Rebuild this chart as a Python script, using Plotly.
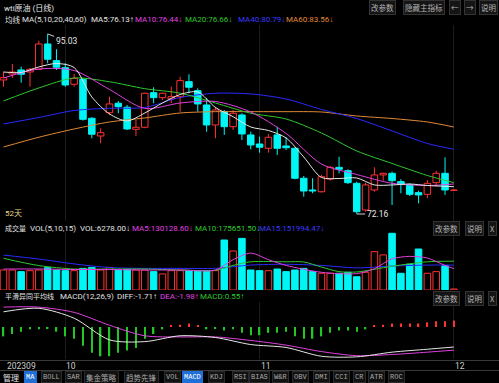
import plotly.graph_objects as go

W, H = 499, 383

# ---------------- data ----------------
opens = [89.19, 89.95, 90.46, 90.20, 90.55, 93.76, 91.64, 90.75, 88.64, 89.27, 84.32, 82.07, 85.03,
         86.23, 85.72, 82.92, 83.18, 87.57, 86.94, 86.77, 87.06, 88.97, 87.83, 86.01, 83.47, 85.16,
         83.25, 84.74, 82.20, 81.05, 80.51, 82.20, 80.80, 80.51, 76.70, 75.21, 74.99, 76.61, 78.09,
         77.66, 76.06, 72.67, 75.21, 77.12, 77.33, 76.27, 75.85, 74.87, 74.66, 76.14, 77.33, 75.16]
highs = [90.24, 91.22, 90.88, 90.71, 94.18, 95.03, 93.09, 91.31, 89.95, 89.40, 84.45, 83.05, 87.06,
         86.52, 86.01, 84.10, 87.57, 88.26, 87.57, 88.33, 89.61, 89.91, 88.13, 86.90, 85.79, 85.37,
         85.37, 84.96, 82.62, 81.98, 82.33, 83.25, 81.91, 80.64, 76.99, 76.70, 77.12, 78.26, 79.44,
         77.84, 76.27, 76.14, 78.09, 77.41, 77.54, 76.57, 76.06, 75.12, 76.48, 77.66, 79.36, 75.30]
lows = [88.33, 89.44, 88.84, 88.33, 90.46, 91.31, 90.46, 88.33, 88.33, 84.02, 81.78, 81.14, 84.74,
        84.96, 82.83, 82.07, 83.05, 86.23, 86.65, 86.26, 85.16, 87.50, 85.16, 82.62, 81.78, 82.20,
        82.83, 81.56, 80.38, 79.95, 79.95, 79.66, 80.29, 76.57, 74.36, 74.79, 74.87, 76.39, 77.33,
        75.97, 72.16, 72.45, 74.99, 76.39, 73.30, 74.79, 74.45, 73.52, 74.16, 75.63, 74.58, 75.08]
closes = [89.48, 90.20, 89.91, 90.55, 93.76, 91.82, 90.80, 88.55, 89.40, 84.19, 82.29, 82.49, 86.14,
          85.79, 82.96, 83.18, 87.50, 86.94, 87.50, 87.06, 89.10, 88.26, 86.14, 83.47, 85.37, 83.25,
          84.96, 82.33, 80.93, 80.64, 81.91, 80.51, 80.58, 76.70, 75.08, 75.08, 76.90, 78.09, 77.84,
          76.14, 72.45, 75.85, 77.12, 77.33, 76.39, 75.93, 74.66, 74.58, 76.06, 77.33, 75.21, 75.21]

volumes = [122000, 122000, 112000, 118000, 122000, 136000, 122000, 118000, 118000, 132000, 138000,
           122000, 138000, 122000, 126000, 122000, 122000, 112000, 98000, 118000, 118000, 118000,
           118000, 118000, 118000, 305000, 238000, 315000, 122000, 118000, 118000, 128000, 112000,
           122000, 132000, 112000, 102000, 102000, 102000, 108000, 81000, 108000, 234000, 214000,
           346000, 102000, 157000, 250000, 102000, 112000, 148000, 6278]

# price moving averages (read at selected candles)
ma5_idx = [0, 2, 4, 6, 8, 10, 12, 14, 16, 18, 20, 22, 24, 26, 28, 30, 32, 34, 36, 38, 40, 42, 44, 46, 48, 50, 51]
ma5_val = [90.20, 90.14, 90.84, 91.28, 90.77, 87.03, 84.87, 83.98, 84.99, 86.26, 87.34, 87.66, 85.69,
           84.52, 83.21, 82.77, 81.82, 79.40, 76.80, 76.67, 76.74, 75.85, 75.85, 75.97, 75.78, 75.68, 75.63]
ma_idx = [0, 4, 8, 12, 16, 20, 24, 28, 32, 36, 40, 44, 48, 51]
ma10_val = [89.44, 90.58, 90.39, 87.98, 85.57, 86.26, 86.45, 85.12, 82.39, 78.51, 77.18, 76.06, 75.78, 75.97]
ma20_val = [86.52, 88.17, 89.44, 88.96, 88.08, 87.51, 86.26, 84.96, 84.23, 82.45, 80.17, 78.58, 77.05, 76.14]
ma40_val = [83.60, 84.42, 85.31, 85.59, 85.69, 86.96, 87.50, 87.41, 86.77, 85.44, 84.29, 82.71, 81.12, 80.38]
ma60_val = [80.67, 81.91, 82.96, 83.85, 84.36, 84.99, 85.16, 85.16, 85.16, 85.12, 84.61, 84.29, 83.85, 83.21]

# volume moving averages
vma5_idx = [0, 4, 8, 12, 16, 20, 24, 26, 28, 30, 32, 36, 40, 42, 44, 46, 48, 50, 51]
vma5_val = [128000, 128000, 125000, 125000, 122000, 122000, 122000, 185000, 225000, 185000, 150000,
            108000, 100000, 130000, 190000, 205000, 195000, 150000, 130129]
vma10_idx = [0, 4, 8, 12, 16, 20, 24, 26, 28, 32, 34, 36, 38, 40, 44, 48, 51]
vma10_val = [193000, 149000, 128000, 128000, 128000, 122000, 120000, 150000, 172000, 172000, 171000,
             140000, 112000, 110000, 145000, 172000, 175652]
vma15_idx = [0, 4, 8, 12, 16, 20, 24, 28, 32, 36, 40, 44, 48, 51]
vma15_val = [213000, 189000, 159000, 137000, 132000, 132000, 132000, 152000, 157000, 150000, 135000,
             146000, 152000, 151994]

# MACD
macd_idx = [0, 4, 8, 12, 16, 20, 24, 28, 32, 36, 40, 44, 48, 51]
diff_val = [1.30, 1.60, 0.75, -1.10, -1.25, -0.75, -0.90, -1.50, -1.75, -2.50, -2.55, -2.15, -1.90, -1.71]
dea_val = [1.70, 1.70, 1.25, 0.15, -0.75, -0.85, -0.85, -1.15, -1.55, -2.10, -2.45, -2.35, -2.15, -1.98]
hist_val = [-0.8, -0.6, -0.4, -0.2, -0.2, -0.1, -0.4, -0.8, -1.0, -1.6, -2.2, -2.5, -2.5, -2.2, -2.0,
            -1.8, -1.0, -0.6, -0.2, 0.1, 0.2, 0.3, 0.1, -0.2, -0.1, -0.3, -0.2, -0.5, -0.7, -0.7,
            -0.5, -0.5, -0.4, -0.8, -1.0, -1.0, -0.8, -0.5, -0.3, -0.3, -0.4, -0.2, 0.1, 0.2, 0.3,
            0.3, 0.3, 0.3, 0.4, 0.5, 0.5, 0.55]

month_idx = [0, 7, 29, 51]
month_txt = ["202309", "10", "11", "12"]

# ---------------- styling ----------------
RED = '#ff3232'
CYAN = '#00f5f5'
C_MA5 = '#e6e6e6'
C_MA10 = '#e040e0'
C_MA20 = '#2fc82f'
C_MA40 = '#2a2aff'
C_MA60 = '#e08a38'
FONT = "Roboto, 'Liberation Sans', 'Noto Sans CJK SC', sans-serif"
CJK = "'Noto Sans CJK SC', sans-serif"

n = len(closes)
idx = list(range(n))
up = [c >= o for o, c in zip(opens, closes)]

fig = go.Figure()


def wicks(flag):
    xs, ys = [], []
    for i in idx:
        if up[i] != flag:
            continue
        top = max(opens[i], closes[i])
        bot = min(opens[i], closes[i])
        xs += [i, i, None, i, i, None]
        ys += [highs[i], top, None, bot, lows[i], None]
    return xs, ys


def bodies(flag):
    xs, hs, bs = [], [], []
    for i in idx:
        if up[i] != flag:
            continue
        xs.append(i)
        bs.append(min(opens[i], closes[i]))
        hs.append(max(abs(closes[i] - opens[i]), 0.02))
    return xs, hs, bs


BW = 0.74
x, h, b = bodies(True)
fig.add_trace(go.Bar(x=x, y=h, base=b, width=BW, xaxis='x', yaxis='y',
                     marker=dict(color='#000000', line=dict(color=RED, width=1))))
x, h, b = bodies(False)
fig.add_trace(go.Bar(x=x, y=h, base=b, width=BW, xaxis='x', yaxis='y',
                     marker=dict(color=CYAN, line=dict(color=CYAN, width=1))))
x, y = wicks(True)
fig.add_trace(go.Scatter(x=x, y=y, mode='lines', line=dict(color=RED, width=1), xaxis='x', yaxis='y'))
x, y = wicks(False)
fig.add_trace(go.Scatter(x=x, y=y, mode='lines', line=dict(color=CYAN, width=1), xaxis='x', yaxis='y'))

for xi, yv, col in [(ma_idx, ma60_val, C_MA60), (ma_idx, ma40_val, C_MA40), (ma_idx, ma20_val, C_MA20),
                    (ma_idx, ma10_val, C_MA10), (ma5_idx, ma5_val, C_MA5)]:
    fig.add_trace(go.Scatter(x=xi, y=yv, mode='lines', xaxis='x', yaxis='y',
                             line=dict(color=col, width=1, shape='spline', smoothing=0.8)))

vu = [i for i in idx if up[i]]
vd = [i for i in idx if not up[i]]
fig.add_trace(go.Bar(x=vu, y=[volumes[i] for i in vu], width=BW, xaxis='x2', yaxis='y2',
                     marker=dict(color='#000000', line=dict(color=RED, width=1))))
fig.add_trace(go.Bar(x=vd, y=[volumes[i] for i in vd], width=BW, xaxis='x2', yaxis='y2',
                     marker=dict(color=CYAN, line=dict(color=CYAN, width=1))))
for xi, yv, col in [(vma15_idx, vma15_val, C_MA40), (vma10_idx, vma10_val, C_MA20),
                    (vma5_idx, vma5_val, C_MA10)]:
    fig.add_trace(go.Scatter(x=xi, y=yv, mode='lines', xaxis='x2', yaxis='y2',
                             line=dict(color=col, width=1, shape='spline', smoothing=0.8)))

hp = [i for i in idx if hist_val[i] >= 0]
hn = [i for i in idx if hist_val[i] < 0]
fig.add_trace(go.Bar(x=hp, y=[hist_val[i] for i in hp], width=0.16, xaxis='x3', yaxis='y3',
                     marker=dict(color=RED, line=dict(width=0))))
fig.add_trace(go.Bar(x=hn, y=[hist_val[i] for i in hn], width=0.16, xaxis='x3', yaxis='y3',
                     marker=dict(color='#22c822', line=dict(width=0))))
fig.add_trace(go.Scatter(x=macd_idx, y=dea_val, mode='lines', xaxis='x3', yaxis='y3',
                         line=dict(color=C_MA10, width=1, shape='spline', smoothing=0.8)))
fig.add_trace(go.Scatter(x=macd_idx, y=diff_val, mode='lines', xaxis='x3', yaxis='y3',
                         line=dict(color=C_MA5, width=1, shape='spline', smoothing=0.8)))

# ---------------- layout ----------------
XR = [-0.396, 56.11]


def yfrac(py):
    return 1 - py / H


ax_common = dict(range=XR, showticklabels=False, zeroline=False, showline=False,
                 tickvals=month_idx[1:], showgrid=True, gridcolor='#1c1c1c', gridwidth=1)
yax_common = dict(showticklabels=False, zeroline=False, showline=False, showgrid=False)

fig.update_layout(
    width=W, height=H, margin=dict(l=0, r=0, t=0, b=0),
    paper_bgcolor='#000000', plot_bgcolor='#000000',
    showlegend=False, barmode='overlay', hovermode=False,
    xaxis=dict(domain=[0, 1], anchor='y', **ax_common),
    xaxis2=dict(domain=[0, 1], anchor='y2', matches='x', **ax_common),
    xaxis3=dict(domain=[0, 1], anchor='y3', matches='x', **ax_common),
    yaxis=dict(domain=[yfrac(221), yfrac(25)], range=[71.27, 96.17], **yax_common),
    yaxis2=dict(domain=[yfrac(290), yfrac(232)], range=[0, 353800], **yax_common),
    yaxis3=dict(domain=[yfrac(359), yfrac(302)], range=[-2.735, 2.137], **yax_common),
)

ann = []


def txt(px, py, s, color='#dcdcdc', size=8, anchor='left', family=FONT, bg=None, border=None):
    d = dict(x=px / W, y=yfrac(py), xref='paper', yref='paper', text=s, showarrow=False,
             xanchor=anchor, yanchor='middle', font=dict(color=color, size=size, family=family))
    if bg:
        d.update(bgcolor=bg, borderpad=1)
    if border:
        d.update(bordercolor=border, borderwidth=1)
    ann.append(d)


BTN = dict(bg='#151515', border='#333333')

# title row
txt(2, 8, "wti原油 (日线)", '#e8e8e8', 8)
for cx, s in [(382, "改参数"), (424, "隐藏主指标"), (455, "←"), (470, "→"), (488, "说明")]:
    txt(cx, 8, s, '#b4b4b4', 7.5, 'center', family=CJK, **BTN)

# MA legend row
txt(3, 19.5, "均线", '#e0e0e0', 7.5, family=CJK)
txt(20, 19.5, "MA(5,10,20,40,60)", '#e0e0e0', 8)
txt(89, 19.5, "MA5:76.13↑", C_MA5, 8)
txt(133, 19.5, "MA10:76.44↓", C_MA10, 8)
txt(183, 19.5, "MA20:76.66↓", C_MA20, 8)
txt(236, 19.5, "MA40:80.79↓", '#3a3aff', 8)
txt(284, 19.5, "MA60:83.56↓", C_MA60, 8)

txt(3, 213, "52天", '#e8d890', 8)

# high / low markers
ann.append(dict(x=5, y=highs[5], xref='x', yref='y', text=f"{highs[5]:.2f}", showarrow=True,
                arrowhead=0, arrowwidth=1, arrowcolor='#d0d0d0', ax=19, ay=7, standoff=0,
                font=dict(color='#e8e8e8', size=8.5, family=FONT)))
ann.append(dict(x=40, y=lows[40], xref='x', yref='y', text=f"{lows[40]:.2f}", showarrow=True,
                arrowhead=0, arrowwidth=1, arrowcolor='#d0d0d0', ax=21, ay=0, standoff=0,
                font=dict(color='#e8e8e8', size=8.5, family=FONT)))

# volume header
txt(3, 228, "成交量", '#e0e0e0', 7, family=CJK)
txt(28, 228, "VOL(5,10,15)", '#e0e0e0', 8)
txt(78, 228, "VOL:6278.00↓", '#e0e0e0', 8)
txt(130, 228, "MA5:130128.60↓", C_MA10, 8)
txt(193, 228, "MA10:175651.50↓", C_MA20, 8)
txt(257, 228, "MA15:151994.47↓", '#3a3aff', 8)
for cx, s in [(446, "改参数"), (474, "说明"), (492, "X")]:
    txt(cx, 228, s, '#b4b4b4', 7.5, 'center', family=CJK, **BTN)

# MACD header
txt(3, 296, "平滑异同平均线", '#e0e0e0', 7, family=CJK)
txt(58, 296, "MACD(12,26,9)", '#e0e0e0', 8)
txt(115, 296, "DIFF:-1.71↑", '#e0e0e0', 8)
txt(158, 296, "DEA:-1.98↑", C_MA10, 8)
txt(198, 296, "MACD:0.55↑", C_MA20, 8)
for cx, s in [(446, "改参数"), (474, "说明"), (492, "X")]:
    txt(cx, 298, s, '#b4b4b4', 7.5, 'center', family=CJK, **BTN)

# date axis
for i, s in zip(month_idx, month_txt):
    ann.append(dict(x=i, y=yfrac(365.5), xref='x', yref='paper', text=s, showarrow=False,
                    xanchor='left', yanchor='middle', xshift=-1 if i else 1,
                    font=dict(color='#cfcfcf', size=8.5, family=FONT)))

# tab bar
MONO = "'Liberation Mono', monospace"
txt(10.5, 377, "管理", '#e0e0e0', 8, 'center', family=CJK)
tabs = [(30, "MA", True), (51, "BOLL", False), (73.5, "SAR", False), (101.5, "集金策略", False),
        (141.5, "趋势先锋", False), (172.5, "VOL", False), (192.5, "MACD", True), (216, "KDJ", False),
        (240, "RSI", False), (259, "BIAS", False), (280, "W&R", False), (300, "OBV", False),
        (321, "DMI", False), (341, "CCI", False), (359, "CR", False), (376, "ATR", False),
        (396.5, "ROC", False)]
for cx, s, hl in tabs:
    cjk = any(ord(ch) > 255 for ch in s)
    fam = CJK if cjk else MONO
    if hl:
        txt(cx, 377, s, '#ffffff', 7, 'center', family=fam, bg='#1f6fd6', border='#1f6fd6')
    else:
        txt(cx, 377, s, '#a8a8a8', 7.5 if cjk else 7, 'center', family=fam,
            bg='#121212', border='#2a2a2a')

fig.update_layout(annotations=ann)

shapes = []
for py in [360.5, 370.5]:
    shapes.append(dict(type='line', xref='paper', yref='paper', x0=0, x1=1, y0=yfrac(py), y1=yfrac(py),
                       line=dict(color='#3a3a3a', width=1)))
fig.update_layout(shapes=shapes)

fig.write_html("out.html", config={'displayModeBar': False},
               post_script="document.body.style.margin='0px';document.body.style.overflow='hidden';")
